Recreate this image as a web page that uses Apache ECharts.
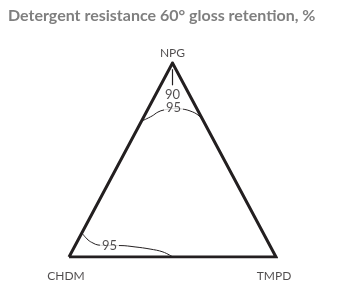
<!DOCTYPE html>
<html>
<head>
<meta charset="utf-8">
<script src="https://cdn.jsdelivr.net/npm/echarts@6/dist/echarts.min.js"></script>
<style>html,body{margin:0;padding:0;background:#fff}#c{width:354px;height:293px}</style>
</head>
<body>
<div id="c"></div>
<script>
// Ternary compositions are [NPG, CHDM, TMPD] fractions
const titleText = 'Detergent resistance 60° gloss retention, %';
const vertexNames = ['NPG', 'CHDM', 'TMPD'];
const vertexComps = [[1, 0, 0], [0, 1, 0], [0, 0, 1]];

const contourTop95 = [
  [0.700, 0.300, 0.000],
  [0.727, 0.235, 0.038],
  [0.747, 0.197, 0.056],
  [0.758, 0.162, 0.080],
  [0.765, 0.105, 0.130],
  [0.763, 0.073, 0.164],
  [0.753, 0.039, 0.208],
  [0.732, 0.011, 0.257],
  [0.696, 0.000, 0.304]
];
const contourBottom95 = [
  [0.124, 0.876, 0.000],
  [0.088, 0.864, 0.048],
  [0.072, 0.848, 0.080],
  [0.062, 0.829, 0.109],
  [0.059, 0.772, 0.169],
  [0.059, 0.724, 0.217],
  [0.052, 0.655, 0.293],
  [0.041, 0.588, 0.371],
  [0.026, 0.533, 0.441],
  [0.000, 0.498, 0.502]
];
const arrowFromTo = [[0.885, 0.0575, 0.0575], [0.968, 0.016, 0.016]];
const contourLabelTexts = ['90', '95', '95'];
const contourLabelComps = [[0.836, 0.082, 0.082], [0.770, 0.110, 0.120], [0.059, 0.775, 0.166]];

function toXY(c) { return [c[2] + c[0] / 2, c[0]]; }

const ink = '#231f20';
const chart = echarts.init(document.getElementById('c'), null, { renderer: 'canvas' });

const triangle = [vertexComps[1], vertexComps[2], vertexComps[0], vertexComps[1]].map(toXY);

chart.setOption({
  animation: false,
  title: {
    text: titleText, left: 3, top: 3,
    textStyle: { fontFamily: 'Lato', fontWeight: 'bold', fontSize: 16, color: '#7f7f7f' }
  },
  grid: { left: 69, top: 63, width: 207, height: 194 },
  xAxis: { type: 'value', min: 0, max: 1, show: false },
  yAxis: { type: 'value', min: 0, max: 1, show: false },
  series: [
    {
      type: 'line', data: triangle, symbol: 'none', silent: true,
      lineStyle: { color: ink, width: 3, join: 'miter' }, z: 3
    },
    {
      type: 'line', data: contourTop95.map(toXY), symbol: 'none', smooth: 0.4, silent: true,
      lineStyle: { color: ink, width: 1 }
    },
    {
      type: 'line', data: contourBottom95.map(toXY), symbol: 'none', smooth: 0.4, silent: true,
      lineStyle: { color: ink, width: 1 }
    },
    {
      type: 'line', data: [], symbol: 'none', silent: true, z: 6,
      markLine: {
        silent: true, animation: false,
        symbol: ['none', 'arrow'], symbolSize: [0, 7],
        label: { show: false },
        itemStyle: { color: ink },
        lineStyle: { color: ink, width: 1.2, type: 'solid' },
        data: [[{ coord: toXY(arrowFromTo[0]) }, { coord: toXY(arrowFromTo[1]) }]]
      }
    },
    {
      type: 'scatter', symbolSize: 0, silent: true, z: 5,
      data: contourLabelComps.map((c, i) => ({ value: toXY(c), name: contourLabelTexts[i] })),
      label: {
        show: true, position: 'inside', formatter: '{b}',
        fontFamily: 'Lato', fontSize: 13, color: ink,
        backgroundColor: '#fff', padding: [0, 2]
      }
    },
    {
      type: 'scatter', symbolSize: 0, silent: true, z: 5,
      data: [
        { value: toXY(vertexComps[0]), name: vertexNames[0], label: { offset: [0, -10] } },
        { value: toXY(vertexComps[1]), name: vertexNames[1], label: { offset: [-3, 19] } },
        { value: toXY(vertexComps[2]), name: vertexNames[2], label: { offset: [-2, 19] } }
      ],
      label: {
        show: true, position: 'inside', formatter: '{b}',
        fontFamily: 'Lato', fontSize: 12, color: ink
      }
    }
  ]
});
</script>
</body>
</html>
